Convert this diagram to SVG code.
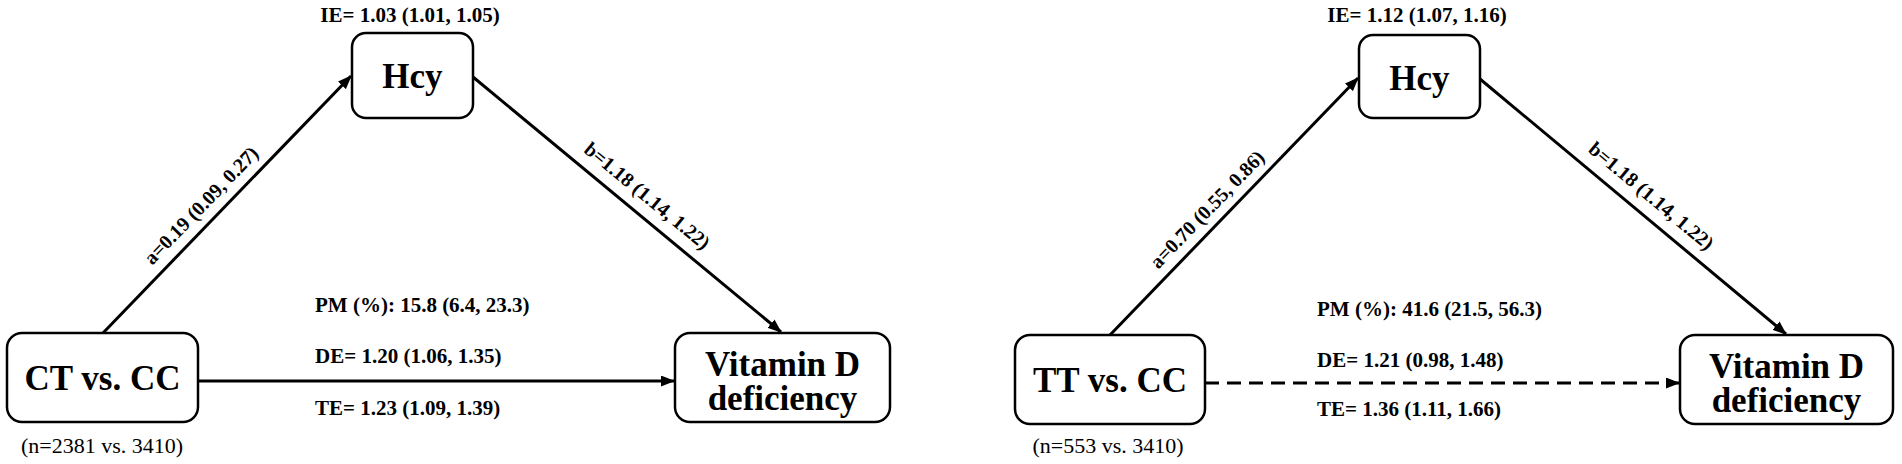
<svg xmlns="http://www.w3.org/2000/svg" width="1902" height="464" viewBox="0 0 1902 464">
<style>
.box{fill:#fff;stroke:#000;stroke-width:2.5}
.big{font-family:"Liberation Serif","Times New Roman",serif;font-weight:bold;font-size:35px;fill:#000;text-anchor:middle}
.lab{font-family:"Liberation Serif","Times New Roman",serif;font-weight:bold;font-size:21px;fill:#000}
.rot{font-family:"Liberation Serif","Times New Roman",serif;font-weight:bold;font-size:20px;fill:#000;text-anchor:middle}
.n{font-family:"Liberation Serif","Times New Roman",serif;font-size:22px;fill:#000;text-anchor:middle}
.edge{stroke:#000;stroke-width:3;fill:none;marker-end:url(#ah)}
.dash{stroke-dasharray:14 8}
</style>
<defs>
<marker id="ah" markerUnits="userSpaceOnUse" markerWidth="14" markerHeight="11" refX="13" refY="5.5" orient="auto" viewBox="0 0 14 11">
<path d="M0,0 L14,5.5 L0,11 z" fill="#000"/>
</marker>
</defs>
<rect width="1902" height="464" fill="#fff"/>
<g id="connectors">
<line class="edge" x1="103" y1="333" x2="351" y2="76"/>
<line class="edge" x1="473" y1="77" x2="781" y2="332"/>
<line class="edge" x1="198" y1="381" x2="674" y2="381"/>
<line class="edge" x1="1110" y1="335" x2="1358" y2="78"/>
<line class="edge" x1="1480" y1="79" x2="1786" y2="334"/>
<line class="edge dash" x1="1205" y1="383" x2="1679" y2="383"/>
</g>
<g id="labels">
<text class="lab" x="410" y="22" text-anchor="middle">IE= 1.03 (1.01, 1.05)</text>
<text class="rot" x="206" y="210" transform="rotate(-46 206 210)">a=0.19 (0.09, 0.27)</text>
<text class="rot" x="643" y="201" transform="rotate(39.4 643 201)">b=1.18 (1.14, 1.22)</text>
<text class="lab" x="315" y="312">PM (%): 15.8 (6.4, 23.3)</text>
<text class="lab" x="315" y="363">DE= 1.20 (1.06, 1.35)</text>
<text class="lab" x="315" y="415">TE= 1.23 (1.09, 1.39)</text>
<text class="n" x="102" y="453">(n=2381 vs. 3410)</text>
<text class="lab" x="1417" y="22" text-anchor="middle">IE= 1.12 (1.07, 1.16)</text>
<text class="rot" x="1212" y="214" transform="rotate(-46 1212 214)">a=0.70 (0.55, 0.86)</text>
<text class="rot" x="1647" y="201" transform="rotate(39.9 1647 201)">b=1.18 (1.14, 1.22)</text>
<text class="lab" x="1317" y="316">PM (%): 41.6 (21.5, 56.3)</text>
<text class="lab" x="1317" y="367">DE= 1.21 (0.98, 1.48)</text>
<text class="lab" x="1317" y="416">TE= 1.36 (1.11, 1.66)</text>
<text class="n" x="1108" y="453">(n=553 vs. 3410)</text>
</g>
<g id="ct-cc">
<rect class="box" x="7" y="333" width="191" height="89" rx="15"/>
<text class="big" x="102.5" y="390">CT vs. CC</text>
</g>
<g id="hcy-left">
<rect class="box" x="352" y="33" width="121" height="85" rx="14"/>
<text class="big" x="412.5" y="88">Hcy</text>
</g>
<g id="vitd-left">
<rect class="box" x="675" y="333" width="215" height="89" rx="15"/>
<text class="big" x="782.5" y="376">Vitamin D</text>
<text class="big" x="782.5" y="410">deficiency</text>
</g>
<g id="tt-cc">
<rect class="box" x="1015" y="335" width="190" height="89" rx="15"/>
<text class="big" x="1110" y="392">TT vs. CC</text>
</g>
<g id="hcy-right">
<rect class="box" x="1359" y="35" width="121" height="83" rx="14"/>
<text class="big" x="1419.5" y="90">Hcy</text>
</g>
<g id="vitd-right">
<rect class="box" x="1680" y="335" width="213" height="89" rx="15"/>
<text class="big" x="1786.5" y="378">Vitamin D</text>
<text class="big" x="1786.5" y="412">deficiency</text>
</g>
</svg>
